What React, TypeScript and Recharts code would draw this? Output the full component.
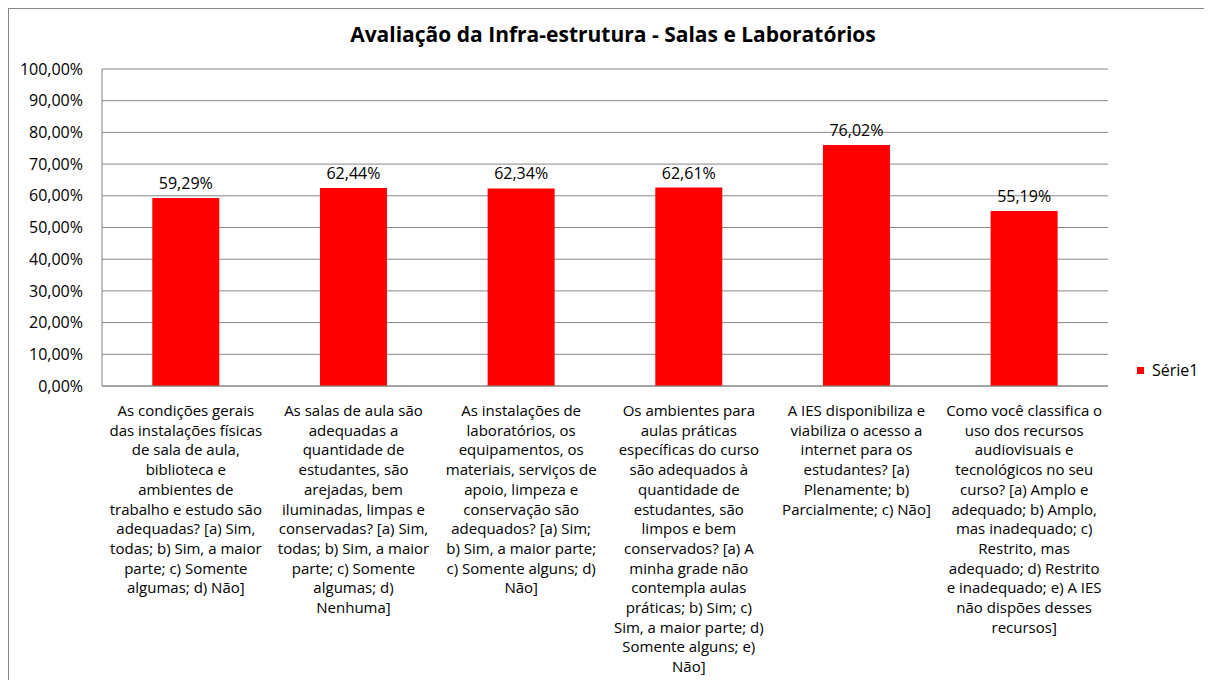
import React from "react";
import { BarChart, Bar, XAxis, YAxis, CartesianGrid, LabelList } from "recharts";

const title = "Avaliação da Infra-estrutura - Salas e Laboratórios";
const seriesName = "Série1";

const categoryLines: string[][] = [
  ["As condições gerais", "das instalações físicas", "de sala de aula,", "biblioteca e", "ambientes de", "trabalho e estudo são", "adequadas? [a) Sim,", "todas; b) Sim, a maior", "parte; c) Somente", "algumas; d) Não]"],
  ["As salas de aula são", "adequadas a", "quantidade de", "estudantes, são", "arejadas, bem", "iluminadas, limpas e", "conservadas? [a) Sim,", "todas; b) Sim, a maior", "parte; c) Somente", "algumas; d)", "Nenhuma]"],
  ["As instalações de", "laboratórios, os", "equipamentos, os", "materiais, serviços de", "apoio, limpeza e", "conservação são", "adequados? [a) Sim;", "b) Sim, a maior parte;", "c) Somente alguns; d)", "Não]"],
  ["Os ambientes para", "aulas práticas", "específicas do curso", "são adequados à", "quantidade de", "estudantes, são", "limpos e bem", "conservados? [a) A", "minha grade não", "contempla aulas", "práticas; b) Sim; c)", "Sim, a maior parte; d)", "Somente alguns; e)", "Não]"],
  ["A IES disponibiliza e", "viabiliza o acesso a", "internet para os", "estudantes? [a)", "Plenamente; b)", "Parcialmente; c) Não]"],
  ["Como você classifica o", "uso dos recursos", "audiovisuais e", "tecnológicos no seu", "curso? [a) Amplo e", "adequado; b) Amplo,", "mas inadequado; c)", "Restrito, mas", "adequado; d) Restrito", "e inadequado; e) A IES", "não dispões desses", "recursos]"],
];

const categories: string[] = categoryLines.map((l) => l.join(" "));
const values: number[] = [0.5929, 0.6244, 0.6234, 0.6261, 0.7602, 0.5519];
const yTicks: number[] = [0, 0.1, 0.2, 0.3, 0.4, 0.5, 0.6, 0.7, 0.8, 0.9, 1.0];

const data = categories.map((c, i) => ({ idx: i, name: c, value: values[i] }));

const FONT = "'Open Sans', sans-serif";
const GRAY = "#868686";

const pct = (v: number) => (v * 100).toFixed(2).replace(".", ",") + "%";

const CategoryTick = (props: any) => {
  const { x, y, payload } = props;
  const lines = categoryLines[payload.index] || categoryLines[payload.value] || [];
  return (
    <text x={x} y={y + 22} textAnchor="middle" fontFamily={FONT} fontSize={15} fill="#000">
      {lines.map((ln, i) => (
        <tspan key={i} x={x} dy={i === 0 ? 0 : 19.7}>
          {ln}
        </tspan>
      ))}
    </text>
  );
};

export default function App() {
  return (
    <div
      style={{
        position: "relative",
        width: 1220,
        height: 700,
        border: `1px solid ${GRAY}`,
        background: "#fff",
      }}
    >
      <div
        style={{
          position: "absolute",
          top: 11,
          left: 0,
          width: 1208,
          textAlign: "center",
          fontFamily: FONT,
          fontWeight: 700,
          fontSize: 21,
          color: "#000",
        }}
      >
        {title}
      </div>
      <div
        style={{
          position: "absolute",
          left: 1128,
          top: 350,
          display: "flex",
          alignItems: "center",
          fontFamily: FONT,
          fontSize: 16,
          color: "#000",
        }}
      >
        <span style={{ display: "inline-block", width: 7, height: 7, background: "#FF0000", marginRight: 8 }} />
        <span>{seriesName}</span>
      </div>
      <BarChart
        width={1204}
        height={672}
        data={data}
        margin={{ top: 60, right: 105, bottom: 5, left: 0 }}
        barCategoryGap="30%"
      >
        <CartesianGrid horizontal vertical={false} stroke={GRAY} strokeWidth={1} />
        <XAxis
          dataKey="idx"
          type="category"
          height={290}
          interval={0}
          axisLine={{ stroke: GRAY }}
          tickLine={false}
          tick={<CategoryTick />}
        />
        <YAxis
          type="number"
          domain={[0, 1]}
          ticks={yTicks}
          width={93}
          axisLine={{ stroke: GRAY }}
          tickLine={false}
          tickSize={0}
          tickMargin={19}
          tickFormatter={pct}
          tick={{ fontFamily: FONT, fontSize: 16, fill: "#000" }}
          interval={0}
        />
        <Bar dataKey="value" name={seriesName} fill="#FF0000" isAnimationActive={false}>
          <LabelList
            dataKey="value"
            position="top"
            offset={9}
            formatter={(v: any) => pct(Number(v))}
            style={{ fontFamily: FONT, fontSize: 16, fill: "#000" }}
          />
        </Bar>
      </BarChart>
    </div>
  );
}
